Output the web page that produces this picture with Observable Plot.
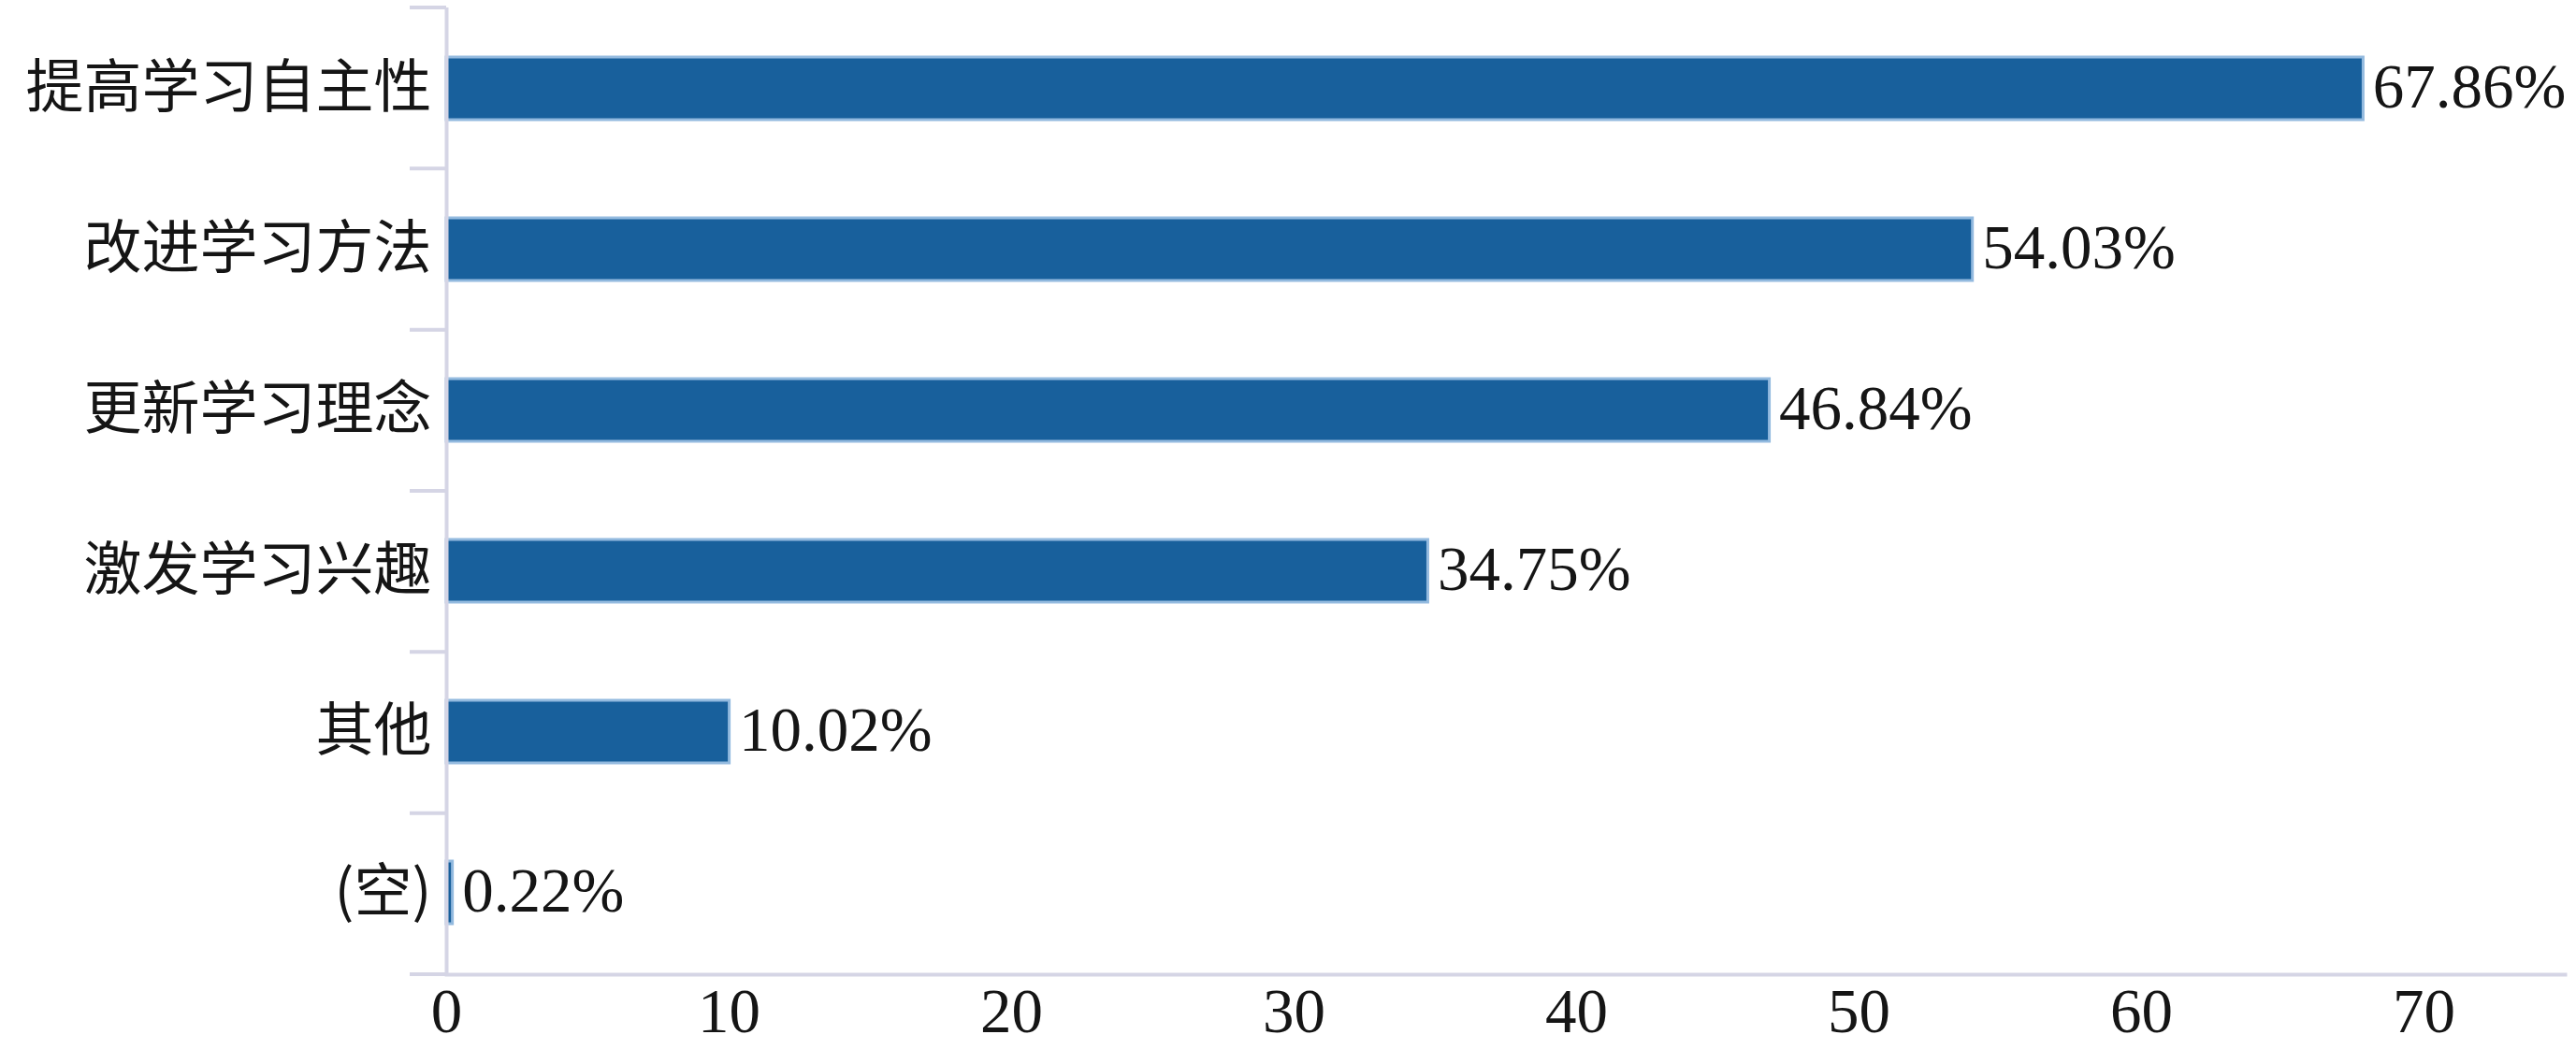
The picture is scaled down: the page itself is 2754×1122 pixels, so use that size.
<!DOCTYPE html>
<html>
<head>
<meta charset="utf-8">
<script src="https://cdn.jsdelivr.net/npm/d3@7"></script>
<script src="https://cdn.jsdelivr.net/npm/@observablehq/plot@0.6"></script>
<style>
  html, body { margin: 0; padding: 0; background: #fff; }
</style>
</head>
<body>
<div id="chart"></div>
<script>
const categories = ["提高学习自主性", "改进学习方法", "更新学习理念", "激发学习兴趣", "其他", "(空)"];
const values = [67.86, 54.03, 46.84, 34.75, 10.02, 0.22];
const valueLabels = ["67.86%", "54.03%", "46.84%", "34.75%", "10.02%", "0.22%"];
const xTicks = [0, 10, 20, 30, 40, 50, 60, 70];

const data = categories.map((c, i) => ({category: c, value: values[i], label: valueLabels[i]}));

const axisColor = "#d5d5e5";
const barColor = "#18609c";
const barEdge = "#93badf";

const chart = Plot.plot({
  width: 2754,
  height: 1122,
  marginTop: 8,
  marginBottom: 80,
  marginLeft: 477,
  marginRight: 12,
  x: {domain: [0, 75], ticks: xTicks},
  y: {domain: categories, paddingInner: 0.61, paddingOuter: 0.305},
  marks: [
    Plot.barX(data, {
      x: "value", y: "category",
      fill: barColor, stroke: barEdge, strokeWidth: 3
    }),
    Plot.ruleX([0], {stroke: axisColor, strokeWidth: 4}),
    Plot.frame({anchor: "bottom", stroke: axisColor, strokeWidth: 4}),
    Plot.text(data, {
      x: "value", y: "category", text: "label",
      textAnchor: "start", dx: 10, dy: -1,
      fontFamily: "Liberation Serif", fontSize: 67, fill: "#151515"
    }),
    Plot.axisY({
      tickSize: 0, tickPadding: 16, label: null,
      fontFamily: "Noto Sans CJK SC", fontSize: 62, fill: "#151515"
    }),
    Plot.axisX({
      ticks: xTicks, tickSize: 0, tickPadding: 14, label: null,
      fontFamily: "Liberation Serif", fontSize: 67, fill: "#151515"
    })
  ]
});

// Category separator ticks at the band boundaries, from the y scale
const ys = chart.scale("y");
const xs = chart.scale("x");
const [r0, r1] = ys.range;
const n = categories.length;
const x0 = xs.apply(0);
const g = d3.select(chart).append("g");
for (let i = 0; i <= n; i++) {
  const yy = r0 + i * (r1 - r0) / n;
  g.append("line")
    .attr("x1", x0 - 39).attr("x2", x0)
    .attr("y1", yy).attr("y2", yy)
    .attr("stroke", axisColor).attr("stroke-width", 4);
}

document.getElementById("chart").appendChild(chart);
</script>
</body>
</html>
